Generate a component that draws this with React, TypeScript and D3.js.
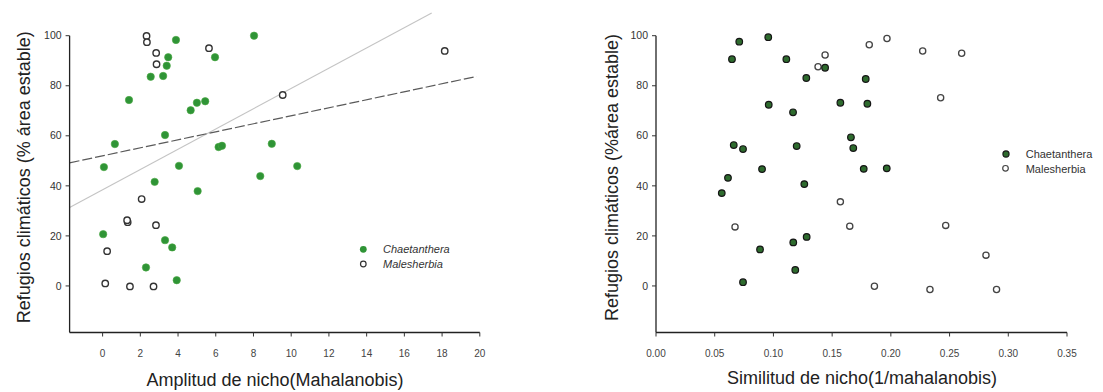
import React from "react";
import * as d3 from "d3";

// ---------- DATA ----------
// Left panel: Amplitud de nicho (Mahalanobis) vs Refugios climáticos
const chaetAmpX = [0.07, 1.4, 0.65, 2.55, 3.21, 3.4, 3.48, 3.89, 3.31, 4.05, 4.67, 5.0, 5.44, 5.96, 8.03, 6.15, 6.33, 8.97, 2.76, 5.04, 8.36, 0.03, 3.31, 3.69, 2.3, 3.93, 10.32];
const chaetAmpY = [47.5, 74.3, 56.7, 83.6, 83.9, 88.0, 91.4, 98.3, 60.3, 48.0, 70.2, 73.2, 73.8, 91.4, 100.0, 55.5, 56.0, 56.8, 41.6, 37.9, 43.9, 20.7, 18.3, 15.4, 7.4, 2.3, 47.9];
const maleAmpX = [2.33, 2.35, 2.84, 2.86, 5.64, 9.55, 18.14, 2.07, 1.33, 1.3, 2.83, 0.24, 0.14, 1.45, 2.7];
const maleAmpY = [99.9, 97.4, 93.1, 88.6, 95.0, 76.3, 93.9, 34.7, 25.5, 26.3, 24.3, 13.9, 1.0, -0.2, -0.2];

// Right panel: Similitud de nicho (1/mahalanobis) vs Refugios climáticos
const chaetSimX = [0.0709, 0.0956, 0.0647, 0.111, 0.144, 0.128, 0.1786, 0.096, 0.1167, 0.157, 0.18, 0.0662, 0.0741, 0.1198, 0.166, 0.168, 0.0903, 0.1769, 0.1965, 0.0613, 0.056, 0.1263, 0.1169, 0.1283, 0.0886, 0.1186, 0.0741];
const chaetSimY = [97.6, 99.4, 90.6, 90.6, 87.2, 83.1, 82.7, 72.4, 69.4, 73.2, 72.8, 56.3, 54.7, 55.9, 59.4, 55.1, 46.7, 46.8, 47.0, 43.2, 37.1, 40.7, 17.4, 19.6, 14.6, 6.4, 1.5];
const maleSimX = [0.144, 0.138, 0.1816, 0.1967, 0.2271, 0.2603, 0.2424, 0.2467, 0.281, 0.2333, 0.29, 0.157, 0.0673, 0.165, 0.186];
const maleSimY = [92.3, 87.6, 96.4, 98.9, 93.9, 93.0, 75.2, 24.2, 12.3, -1.4, -1.4, 33.6, 23.6, 23.9, -0.1];

// Regression lines (left panel): [intercept, slope, xStart, xEnd]
const fitDashed = [52.0, 1.6, -1.75, 19.83];
const fitLight = [38.4, 4.05, -1.75, 17.45];

const ampTicks = [0, 2, 4, 6, 8, 10, 12, 14, 16, 18, 20];
const simTicks = [0, 0.05, 0.1, 0.15, 0.2, 0.25, 0.3, 0.35];
const yTicks = [0, 20, 40, 60, 80, 100];
const legendNames = ["Chaetanthera", "Malesherbia"];

// ---------- LAYOUT ----------
const W = 1103;
const H = 392;
const yScale = d3.scaleLinear().domain([-18.6, 100]).range([332.5, 35.7]);
const xAmp = d3.scaleLinear().domain([-1.75, 20]).range([69.6, 479.8]);
const xSim = d3.scaleLinear().domain([0, 0.35]).range([656, 1067]);

const FONT = "Liberation Sans, Arial, Helvetica, sans-serif";

function YAxis({ x }: { x: number }) {
  return (
    <g>
      <line x1={x} x2={x} y1={yScale(100)} y2={yScale(-18.6)} stroke="#222" strokeWidth={1.3} />
      {yTicks.map((t) => (
        <g key={t}>
          <line x1={x - 4} x2={x} y1={yScale(t)} y2={yScale(t)} stroke="#333" strokeWidth={1} />
          <text x={x - 8} y={yScale(t)} dy="0.35em" textAnchor="end" fontSize={10.5} fill="#333" fontFamily={FONT}>
            {t}
          </text>
        </g>
      ))}
    </g>
  );
}

function XAxis({ scale, ticks, fmt, y }: { scale: d3.ScaleLinear<number, number>; ticks: number[]; fmt: (v: number) => string; y: number }) {
  const [r0, r1] = scale.range();
  return (
    <g>
      <line x1={r0} x2={r1} y1={y} y2={y} stroke="#222" strokeWidth={1.3} />
      {ticks.map((t) => (
        <g key={t}>
          <line x1={scale(t)} x2={scale(t)} y1={y} y2={y + 4} stroke="#333" strokeWidth={1} />
          <text x={scale(t)} y={y + 24} textAnchor="middle" fontSize={10} fill="#444" fontFamily={FONT}>
            {fmt(t)}
          </text>
        </g>
      ))}
    </g>
  );
}

export default function App() {
  const axisY = yScale(-18.6);
  const dashedPts: [number, number][] = [fitDashed[2], fitDashed[3]].map((xv) => [xAmp(xv), yScale(fitDashed[0] + fitDashed[1] * xv)]);
  const lightPts: [number, number][] = [fitLight[2], fitLight[3]].map((xv) => [xAmp(xv), yScale(fitLight[0] + fitLight[1] * xv)]);
  const line = d3.line();

  return (
    <svg width={W} height={H} style={{ position: "absolute", left: 0, top: 0, background: "#fff" }}>
      <rect x={0} y={0} width={W} height={H} fill="#fff" />

      {/* ---------- LEFT PANEL ---------- */}
      <path d={line(lightPts) || ""} stroke="#c4c4c4" strokeWidth={1.1} fill="none" />
      <path d={line(dashedPts) || ""} stroke="#5a5a5a" strokeWidth={1.2} strokeDasharray="10,3" fill="none" />
      <YAxis x={xAmp(-1.75)} />
      <XAxis scale={xAmp} ticks={ampTicks} fmt={(v) => String(v)} y={axisY} />
      {maleAmpX.map((xv, i) => (
        <circle key={"ma" + i} cx={xAmp(xv)} cy={yScale(maleAmpY[i])} r={3.2} fill="#fff" stroke="#333" strokeWidth={1.4} />
      ))}
      {chaetAmpX.map((xv, i) => (
        <circle key={"ca" + i} cx={xAmp(xv)} cy={yScale(chaetAmpY[i])} r={3.7} fill="#2f9436" stroke="#4aa842" strokeWidth={0.6} />
      ))}
      {/* legend */}
      <circle cx={363.3} cy={249.3} r={3.4} fill="#2f9436" />
      <circle cx={363.3} cy={264} r={2.8} fill="#fff" stroke="#333" strokeWidth={1.2} />
      <text x={383} y={253.3} fontSize={11} fontStyle="italic" fill="#333" fontFamily={FONT}>{legendNames[0]}</text>
      <text x={383} y={268} fontSize={11} fontStyle="italic" fill="#333" fontFamily={FONT}>{legendNames[1]}</text>
      <text x={275} y={386} textAnchor="middle" fontSize={18} fill="#222" fontFamily={FONT}>Amplitud de nicho(Mahalanobis)</text>
      <text transform="translate(30,177.3) rotate(-90)" textAnchor="middle" fontSize={18} fill="#222" fontFamily={FONT}>
        Refugios climáticos (% área estable)
      </text>

      {/* ---------- RIGHT PANEL ---------- */}
      <YAxis x={xSim(0)} />
      <XAxis scale={xSim} ticks={simTicks} fmt={(v) => v.toFixed(2)} y={axisY} />
      {maleSimX.map((xv, i) => (
        <circle key={"ms" + i} cx={xSim(xv)} cy={yScale(maleSimY[i])} r={3.1} fill="#fff" stroke="#444" strokeWidth={1.3} />
      ))}
      {chaetSimX.map((xv, i) => (
        <circle key={"cs" + i} cx={xSim(xv)} cy={yScale(chaetSimY[i])} r={3.3} fill="#2e6b2e" stroke="#151515" strokeWidth={1.2} />
      ))}
      <circle cx={1006} cy={154} r={3.1} fill="#2e6b2e" stroke="#151515" strokeWidth={1.1} />
      <circle cx={1005.5} cy={168.3} r={2.8} fill="#fff" stroke="#444" strokeWidth={1.2} />
      <text x={1025.7} y={158.3} fontSize={11} fill="#333" fontFamily={FONT}>{legendNames[0]}</text>
      <text x={1025.7} y={172.5} fontSize={11} fill="#333" fontFamily={FONT}>{legendNames[1]}</text>
      <text x={862} y={384} textAnchor="middle" fontSize={18} fill="#222" fontFamily={FONT}>Similitud de nicho(1/mahalanobis)</text>
      <text transform="translate(618,177.5) rotate(-90)" textAnchor="middle" fontSize={18} fill="#222" fontFamily={FONT}>
        Refugios climáticos (%área estable)
      </text>
    </svg>
  );
}
